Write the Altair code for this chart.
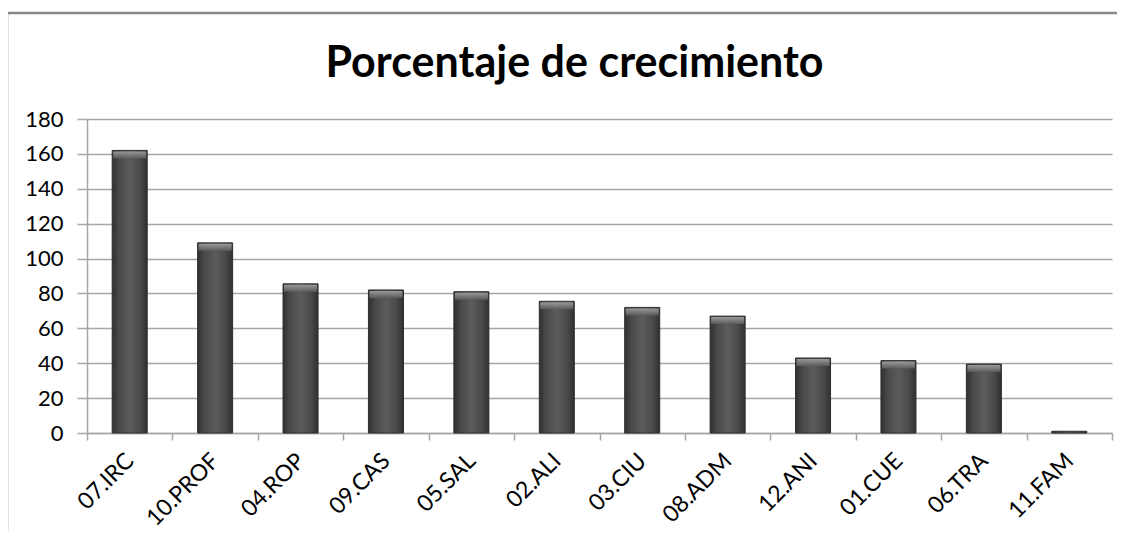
import altair as alt
import pandas as pd

categories = ["07.IRC", "10.PROF", "04.ROP", "09.CAS", "05.SAL", "02.ALI",
              "03.CIU", "08.ADM", "12.ANI", "01.CUE", "06.TRA", "11.FAM"]
values = [162, 109, 85.5, 82, 81, 75.5, 72, 67, 43, 41.5, 39.5, 1]
y_ticks = [0, 20, 40, 60, 80, 100, 120, 140, 160, 180]
title_text = "Porcentaje de crecimiento"

df = pd.DataFrame({"cat": categories, "val": values})
tdf = pd.DataFrame({"t": [title_text]})

W, H = 1025, 314
FONT = "Lato"
GRID = "#a6a6a6"

x_scale = alt.Scale(domain=categories, paddingInner=0, paddingOuter=0)
y_scale = alt.Scale(domain=[0, 180], nice=False)

x_axis = alt.Axis(title=None, labelAngle=-45, labelAlign="right",
                  labelBaseline="middle", labelPadding=17,
                  labelFont=FONT, labelFontSize=23, labelColor="#000000",
                  tickBand="extent", tickSize=7, tickColor=GRID,
                  tickWidth=1.5, domainColor=GRID, domainWidth=1.5,
                  labelOverlap=False, labelBound=False, grid=False)
y_axis = alt.Axis(title=None, values=y_ticks, labelFont=FONT,
                  labelFontSize=22, labelColor="#000000",
                  labelOverlap=False, labelBound=False,
                  labelPadding=14, tickSize=10, tickColor=GRID,
                  tickWidth=1.5, domainColor=GRID, domainWidth=1.5,
                  grid=True, gridColor=GRID, gridWidth=1.5)

x_enc = alt.X("cat:N", sort=categories, scale=x_scale, axis=x_axis)
y_enc = alt.Y("val:Q", scale=y_scale, axis=y_axis)

bar_grad = alt.Gradient(gradient="linear", x1=0, x2=1, y1=0, y2=0, stops=[
    alt.GradientStop(offset=0, color="#303030"),
    alt.GradientStop(offset=0.2, color="#4a4a4a"),
    alt.GradientStop(offset=0.5, color="#5c5c5c"),
    alt.GradientStop(offset=0.8, color="#4a4a4a"),
    alt.GradientStop(offset=1, color="#303030"),
])
bevel_grad = alt.Gradient(gradient="linear", x1=0, x2=0, y1=0, y2=1, stops=[
    alt.GradientStop(offset=0, color="#a0a0a0"),
    alt.GradientStop(offset=1, color="#5c5c5c"),
])

bars = alt.Chart(df).mark_bar(
    width=alt.RelativeBandSize(0.41), color=bar_grad,
    stroke="#2e2e2e", strokeWidth=1
).encode(x=x_enc, y=y_enc)

bevel = alt.Chart(df).transform_filter("datum.val > 5").mark_tick(
    size=33, thickness=7, yOffset=4.5, color=bevel_grad, opacity=0.9
).encode(x=x_enc, y=y_enc)

left_border = alt.Chart(tdf).mark_rule(color="#878787", strokeWidth=2.5).encode(
    x=alt.value(-80), y=alt.value(-106), y2=alt.value(H + 110))
top_border = alt.Chart(tdf).mark_rule(color="#878787", strokeWidth=2.5).encode(
    y=alt.value(-106), x=alt.value(-81), x2=alt.value(W + 20))

title = alt.Chart(tdf).mark_text(
    font=FONT, fontSize=43, fontWeight="bold", color="#000000",
    align="center", baseline="alphabetic"
).encode(x=alt.value(W / 2 - 25), y=alt.value(-42), text="t:N")

chart = alt.layer(bars, bevel, left_border, top_border, title).properties(
    width=W, height=H, background="#ffffff",
    autosize=alt.AutoSizeParams(type="none"),
    padding={"left": 79, "top": 111, "right": 5, "bottom": 98},
).configure_view(stroke="transparent", strokeWidth=0)

chart.save("out.html", embed_options={"renderer": "svg", "actions": False})
